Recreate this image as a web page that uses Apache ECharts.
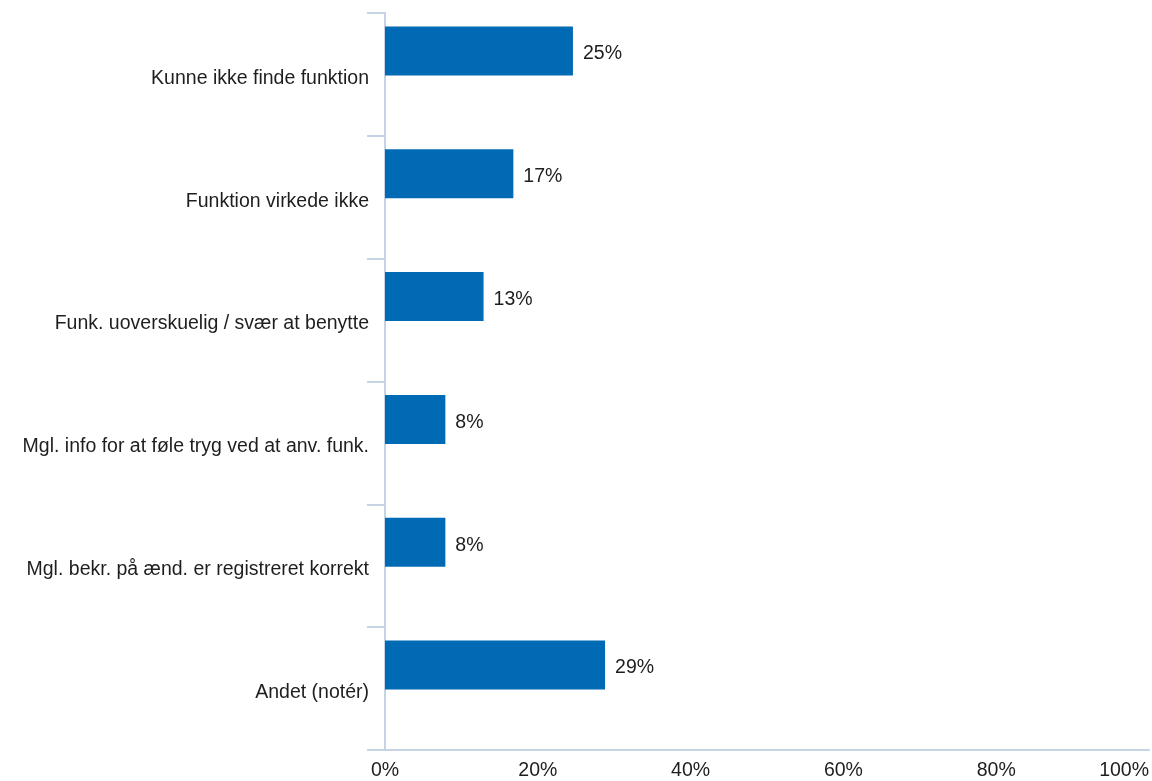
<!DOCTYPE html>
<html>
<head>
<meta charset="utf-8">
<script src="https://cdn.jsdelivr.net/npm/echarts@6/dist/echarts.min.js"></script>
<style>
html,body{margin:0;padding:0;background:#fff;}
#chart{width:1152px;height:781px;}
</style>
</head>
<body>
<div id="chart"></div>
<script>
const categories = [
  "Kunne ikke finde funktion",
  "Funktion virkede ikke",
  "Funk. uoverskuelig / svær at benytte",
  "Mgl. info for at føle tryg ved at anv. funk.",
  "Mgl. bekr. på ænd. er registreret korrekt",
  "Andet (notér)"
];
const values = [24.6, 16.8, 12.9, 7.9, 7.9, 28.8];
const emptyValues = ["-", "-", "-", "-", "-", "-"];
const xTicks = [0, 20, 40, 60, 80, 100];

const axisColor = "#C5D3E5";
const textColor = "#1E1E1E";
const font = "'Liberation Sans', Arial, sans-serif";

const chart = echarts.init(document.getElementById("chart"), null, {renderer: "canvas"});
chart.setOption({
  animation: false,
  backgroundColor: "#ffffff",
  grid: {left: 385, right: 2, top: 13, bottom: 31, containLabel: false},
  xAxis: {
    type: "value",
    min: xTicks[0],
    max: xTicks[xTicks.length - 1],
    interval: xTicks[1] - xTicks[0],
    axisLine: {show: true, lineStyle: {color: axisColor, width: 2}},
    axisTick: {show: false},
    splitLine: {show: false},
    axisLabel: {
      formatter: "{value}%",
      color: textColor,
      fontFamily: font,
      fontSize: 19.5,
      margin: 11,
      alignMaxLabel: "right"
    }
  },
  yAxis: {
    type: "category",
    data: categories,
    inverse: true,
    axisLine: {show: true, lineStyle: {color: axisColor, width: 2}},
    axisTick: {show: true, length: 18, lineStyle: {color: axisColor, width: 2}},
    axisLabel: {
      color: textColor,
      fontFamily: font,
      fontSize: 19.5,
      margin: 16,
      formatter: v => "{c|" + v + "}",
      rich: {
        c: {
          color: textColor,
          fontFamily: font,
          fontSize: 19.5,
          padding: [8, 0, 0, 0]
        }
      }
    }
  },
  series: [
    {
      type: "bar",
      data: values,
      barWidth: 49,
      barGap: "-4%",
      itemStyle: {color: "#006AB4"},
      label: {
        show: true,
        position: "right",
        distance: 10,
        offset: [0, 3],
        color: textColor,
        fontFamily: font,
        fontSize: 19.5,
        formatter: p => Math.round(p.value) + "%"
      }
    },
    {
      type: "bar",
      data: emptyValues,
      barWidth: 49,
      itemStyle: {color: "#9BB7D9"}
    }
  ]
});
</script>
</body>
</html>
